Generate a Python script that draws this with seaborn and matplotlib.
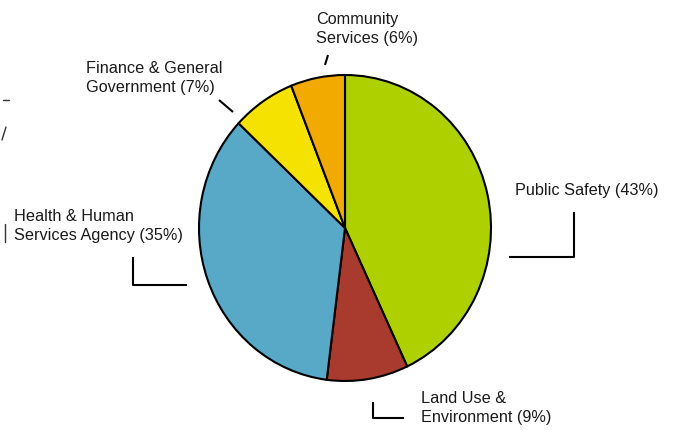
import matplotlib
matplotlib.use("Agg")
import matplotlib.pyplot as plt
import seaborn as sns

categories = ["Public Safety", "Land Use & Environment", "Health & Human Services Agency",
              "Finance & General Government", "Community Services"]
values = [43, 9, 35, 7, 6]
label_texts = ["Public Safety (43%)", "Land Use &\nEnvironment (9%)",
               "Health & Human\nServices Agency (35%)", "Finance & General\nGovernment (7%)",
               "Community\nServices (6%)"]
colors = ["#AFD000", "#A93A2E", "#58A8C8", "#F6E200", "#F2A900"]

sns.set_theme(style="white")
plt.rcParams['font.family'] = ['Liberation Sans', 'DejaVu Sans']

W, H = 674, 430
fig = plt.figure(figsize=(W / 100, H / 100), dpi=100)
fig.patch.set_facecolor("white")

# pie axes over the (slightly elliptical) pie bounding box
px0, px1, py0, py1 = 199, 491, 75, 381
ax = fig.add_axes([px0 / W, 1 - py1 / H, (px1 - px0) / W, (py1 - py0) / H])
palette = sns.color_palette(colors)
wedges, _ = ax.pie(values, colors=palette, startangle=90, counterclock=False,
                   wedgeprops=dict(edgecolor="black", linewidth=1.5, clip_on=False))
ax.set_aspect("auto")
ax.set_xlim(-1, 1)
ax.set_ylim(-1, 1)
ax.axis("off")

# overlay axes in pixel coordinates for labels and leader lines
ov = fig.add_axes([0, 0, 1, 1])
ov.set_xlim(0, W)
ov.set_ylim(H, 0)
ov.axis("off")
ov.patch.set_alpha(0)

fs = 11.7
text_pos = [(515, 191), (421, 408), (14, 226), (86, 78), (316, 29)]
for (x, y), t in zip(text_pos, label_texts):
    ov.text(x, y, t, ha="left", va="center", fontsize=fs, color="#1a1a1a", linespacing=1.35)

lk = dict(color="black", linewidth=1.5, solid_capstyle="butt")
ov.plot([574, 574, 509], [212, 257, 257], **lk)
ov.plot([133, 133, 187], [257, 285, 285], **lk)
ov.plot([373, 373, 404], [402, 418, 418], **lk)
ov.plot([219, 233], [100, 112], **lk)
ov.plot([325, 328], [65, 55], **lk)

# clipped fragments at the left edge
ov.plot([3, 9], [100, 100], color="#333333", linewidth=1)
ov.plot([2, 6], [140, 127], color="#333333", linewidth=1)
ov.plot([5, 5], [224, 242], color="#333333", linewidth=1)

fig.savefig("out.png", dpi=100)
